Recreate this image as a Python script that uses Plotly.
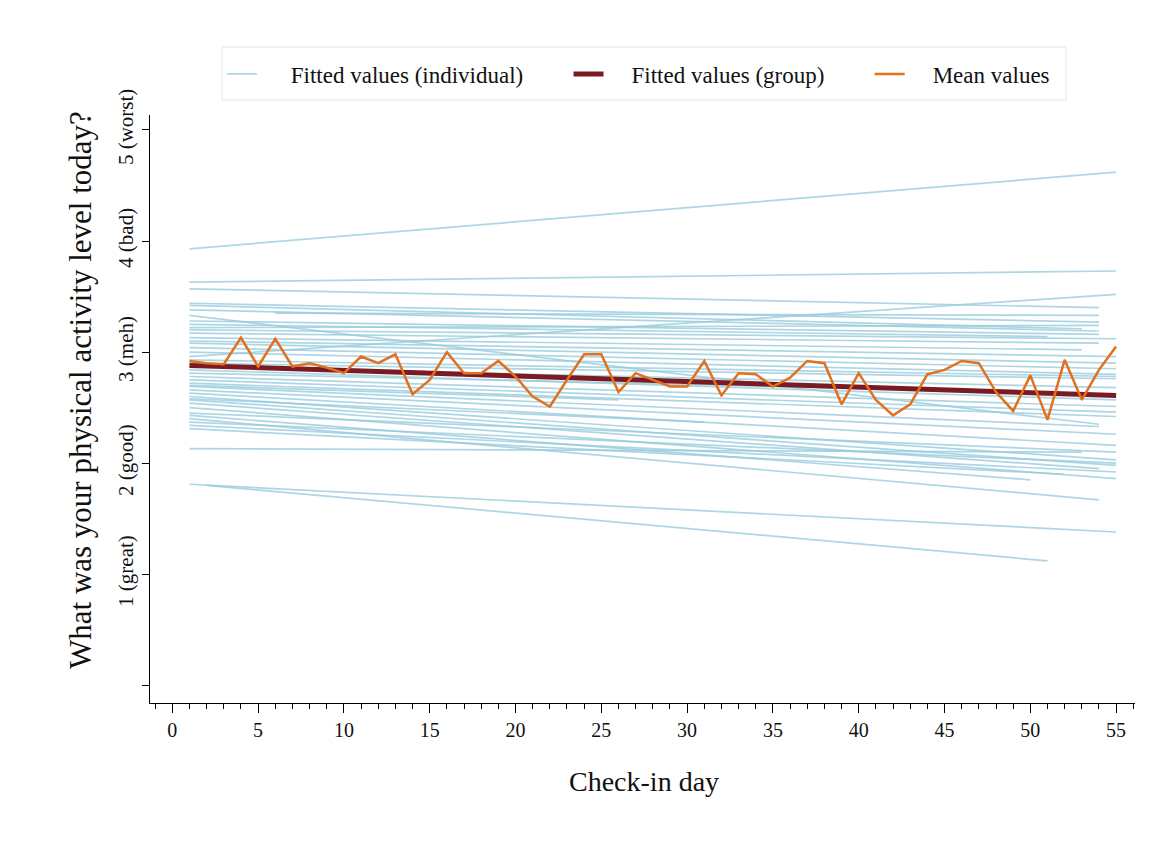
import plotly.graph_objects as go

# ---- data ----
mean_days = list(range(1, 56))
mean_vals = [2.92, 2.90, 2.89, 3.13, 2.87, 3.12, 2.87, 2.90, 2.86, 2.81,
             2.96, 2.90, 2.98, 2.62, 2.75, 3.00, 2.81, 2.81, 2.92, 2.78,
             2.60, 2.51, 2.75, 2.98, 2.98, 2.64, 2.81, 2.75, 2.69, 2.69,
             2.92, 2.61, 2.81, 2.80, 2.69, 2.77, 2.92, 2.90, 2.53, 2.81,
             2.57, 2.43, 2.53, 2.80, 2.84, 2.92, 2.90, 2.64, 2.47, 2.79,
             2.39, 2.93, 2.57, 2.84, 3.05]

group_days = [1, 55]
group_vals = [2.88, 2.61]

ind_start_day = [1, 1, 1, 1, 1, 6, 1, 1, 1, 1, 1, 1, 1, 1, 1, 1, 1, 1, 1, 1,
                 1, 1, 1, 1, 1, 1, 1, 1, 1, 1, 1, 1, 1, 1, 1, 1, 1, 1, 1, 1,
                 2, 1, 1, 1, 1]
ind_end_day = [55, 55, 54, 54, 53, 54, 54, 54, 55, 54, 51, 55, 54, 53, 55, 55, 55, 55, 55, 55,
               55, 55, 55, 55, 55, 54, 55, 55, 55, 55, 54, 55, 55, 50, 54, 55, 55, 52, 53, 55,
               51, 31, 26, 54, 55]
ind_start_val = [3.93, 3.63, 3.57, 3.44, 3.42, 3.35, 3.38, 3.33, 2.96, 3.28, 3.25, 3.20, 3.17, 3.13, 3.08, 3.04, 3.00, 2.93, 2.90, 2.87,
                 2.84, 2.81, 2.78, 2.75, 2.72, 2.69, 2.66, 2.63, 2.60, 2.57, 2.54, 2.50, 2.45, 2.43, 2.40, 2.37, 2.34, 2.31, 2.13, 1.81,
                 1.80, 2.58, 2.70, 3.22, 3.10]
ind_end_val = [4.62, 3.73, 3.40, 3.27, 3.21, 3.33, 3.19, 2.35, 3.52, 3.16, 3.14, 3.12, 3.08, 3.02, 2.90, 2.85, 2.80, 2.78, 2.76, 2.68,
               2.57, 2.62, 2.51, 2.46, 2.42, 2.33, 2.26, 2.16, 2.03, 1.98, 1.95, 1.86, 2.10, 1.85, 1.67, 2.00, 1.92, 1.90, 2.10, 1.38,
               1.12, 2.37, 2.57, 3.24, 2.96]

y_tick_vals = [0, 1, 2, 3, 4, 5]
y_tick_text = ["", "1 (great)", "2 (good)", "3 (meh)", "4 (bad)", "5 (worst)"]
x_tick_vals = list(range(0, 56, 5))

legend_names = ["Fitted values (individual)", "Fitted values (group)", "Mean values"]

# ---- styles ----
C_IND = "rgba(150,202,220,0.78)"
C_GRP = "#7a1a22"
C_MEAN = "#e2701c"
FONT = "Liberation Serif"
NB = "\u00a0"

def pad(name, lead, trail):
    return NB * lead + name + NB * trail

fig = go.Figure()

for i in range(len(ind_start_day)):
    fig.add_trace(go.Scatter(
        x=[ind_start_day[i], ind_end_day[i]],
        y=[ind_start_val[i], ind_end_val[i]],
        mode="lines", line=dict(color=C_IND, width=1.7),
        name=pad(legend_names[0], 5, 7), legendgroup="ind",
        showlegend=(i == 0), hoverinfo="skip"))

fig.add_trace(go.Scatter(x=group_days, y=group_vals, mode="lines",
                         line=dict(color=C_GRP, width=5),
                         name=pad(legend_names[1], 4, 7)))
fig.add_trace(go.Scatter(x=mean_days, y=mean_vals, mode="lines",
                         line=dict(color=C_MEAN, width=2.5),
                         name=pad(legend_names[2], 4, 2)))

pa_l, pa_r, pa_t, pa_b = 150, 1158 - 23, 115, 843 - 140

def px_x(v):
    return (v - pa_l) / (pa_r - pa_l)

def px_y(v):
    return (pa_b - v) / (pa_b - pa_t)

fig.update_layout(
    width=1158, height=843,
    margin=dict(l=pa_l, r=23, t=pa_t, b=140, autoexpand=False),
    paper_bgcolor="white", plot_bgcolor="white",
    font=dict(family=FONT, color="#111111", size=20),
    showlegend=True,
    legend=dict(orientation="h", x=px_x(222), y=px_y(74),
                xanchor="left", yanchor="middle",
                borderwidth=0, bgcolor="rgba(0,0,0,0)",
                font=dict(family=FONT, size=23, color="#111111")),
    shapes=[dict(type="rect", xref="paper", yref="paper",
                 x0=px_x(222), x1=px_x(1066), y0=px_y(100), y1=px_y(47),
                 line=dict(color="#e6e6e6", width=1), fillcolor="white", layer="above")],
    xaxis=dict(range=[-1.3, 56.1], tickvals=x_tick_vals, showgrid=False, zeroline=False,
               showline=True, linecolor="black", linewidth=1.3,
               ticks="outside", ticklen=9, tickwidth=1.3, tickcolor="black",
               tickfont=dict(size=20, family=FONT),
               minor=dict(dtick=1, tick0=0, ticks="outside", ticklen=5, tickwidth=1, tickcolor="black")),
    yaxis=dict(range=[-0.16, 5.135], tickvals=y_tick_vals, ticktext=y_tick_text,
               showgrid=False, zeroline=False, showline=True, linecolor="black", linewidth=1.3,
               ticks="outside", ticklen=7, tickwidth=1.3, tickcolor="black",
               tickangle=-90, tickfont=dict(size=21, family=FONT)),
    annotations=[
        dict(text="Check-in day", xref="paper", yref="paper", showarrow=False,
             x=px_x(644), y=px_y(781), xanchor="center", yanchor="middle",
             font=dict(size=28, family=FONT)),
        dict(text="What was your physical activity level today?", textangle=-90,
             xref="paper", yref="paper", showarrow=False,
             x=px_x(80), y=px_y(390), xanchor="center", yanchor="middle",
             font=dict(size=31, family=FONT)),
    ],
)

fig.write_html("out.html")
